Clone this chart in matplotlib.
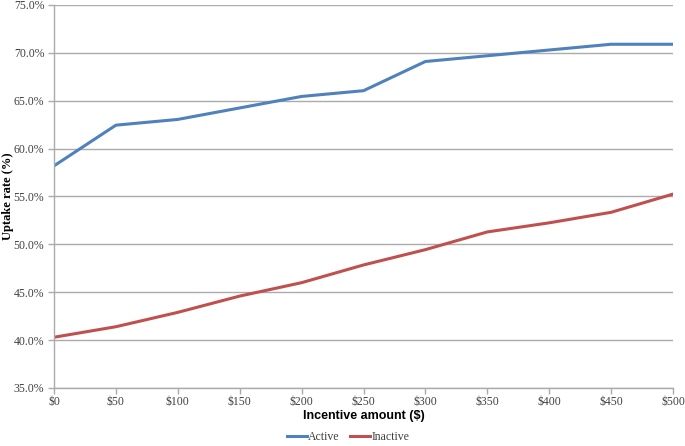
import matplotlib
matplotlib.use("Agg")
import matplotlib.pyplot as plt
from matplotlib.ticker import FuncFormatter

incentive = [0, 50, 100, 150, 200, 250, 300, 350, 400, 450, 500]
active = [58.2, 62.45, 63.05, 64.25, 65.45, 66.05, 69.1, 69.7, 70.3, 70.9, 70.9]
inactive = [40.3, 41.4, 42.9, 44.6, 46.0, 47.85, 49.45, 51.3, 52.25, 53.35, 55.25]
x_labels = ["$" + str(v) for v in incentive]

fig = plt.figure(figsize=(6.85, 4.46), dpi=100)
ax = fig.add_axes([54/685, 1 - 388/446, (673-54)/685, (388-5)/446])

ax.plot(incentive, active, color="#4F81BD", lw=2.2, label="Active")
ax.plot(incentive, inactive, color="#C0504D", lw=2.2, label="Inactive")

ax.set_xlim(0, 500)
ax.set_ylim(35, 75)
ax.set_xticks(incentive)
ax.set_xticklabels(x_labels)
ax.set_yticks(range(35, 76, 5))
ax.yaxis.set_major_formatter(FuncFormatter(lambda v, p: f"{v:.1f}%"))

ax.grid(axis="y", color="#ABABAB", lw=1)
ax.set_axisbelow(True)
for s in ["top", "right"]:
    ax.spines[s].set_visible(False)
for s in ["left", "bottom"]:
    ax.spines[s].set_color("#ABABAB")
    ax.spines[s].set_linewidth(1)
ax.tick_params(axis="both", colors="#ABABAB", length=4, width=1, labelcolor="#404040")
ax.tick_params(axis="x", pad=2)
ax.tick_params(axis="y", pad=3)
for lab in ax.get_xticklabels() + ax.get_yticklabels():
    lab.set_fontfamily("Liberation Serif")
    lab.set_fontsize(8.5)

ax.set_xlabel("Incentive amount ($)", fontfamily="Liberation Sans", fontweight="bold",
              fontsize=9)
ax.xaxis.set_label_coords(0.5, -(410 - 388) / 383)
ax.set_ylabel("Uptake rate (%)", fontfamily="Liberation Serif", fontweight="bold",
              fontsize=9)
ax.yaxis.set_label_coords((14 - 54) / 619, 0.5)

leg = fig.legend(loc="center", bbox_to_anchor=(348/685, 1 - 437/446), ncol=2, frameon=False,
                 prop={"family": "Liberation Serif", "size": 8.5},
                 handlelength=1.7, handletextpad=0.1, columnspacing=0.9)
for t in leg.get_texts():
    t.set_color("#404040")

fig.savefig("out.png", dpi=100)
